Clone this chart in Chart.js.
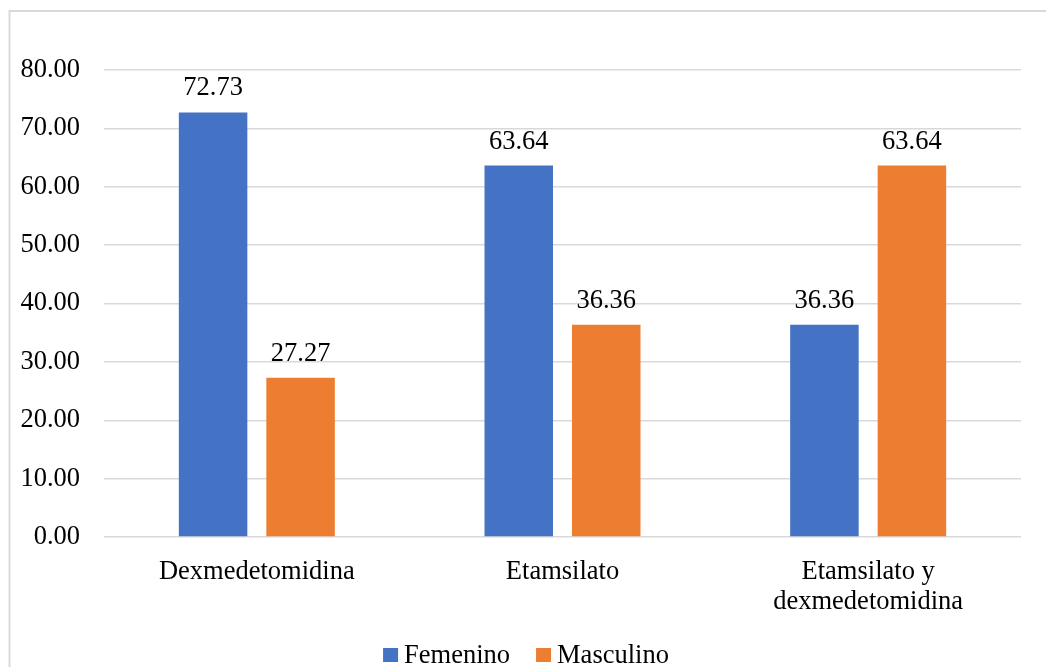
<!DOCTYPE html>
<html>
<head>
<meta charset="utf-8">
<title>Femenino / Masculino</title>
<script src="https://cdn.jsdelivr.net/npm/chart.js@4.4.1/dist/chart.umd.min.js"></script>
<style>
  html, body { margin: 0; padding: 0; overflow: hidden; background: #ffffff; }
  #wrap { width: 1046px; height: 667px; position: relative; }
</style>
</head>
<body>
<div id="wrap"><canvas id="chart"></canvas></div>
<script>
// Grouped percentages by drug and sex
const categories = ['Dexmedetomidina', 'Etamsilato', ['Etamsilato y', 'dexmedetomidina']];
const femenino = [72.73, 63.64, 36.36];
const masculino = [27.27, 36.36, 63.64];
const seriesNames = ['Femenino', 'Masculino'];
const yTicks = [0, 10, 20, 30, 40, 50, 60, 70, 80];

const FONT = '"Liberation Serif", "Times New Roman", serif';
const FONT_SIZE = 26.5;
const BLUE = '#4472C4';
const ORANGE = '#ED7D31';
const GRID = '#d9d9d9';

// Thin frame around the figure
const framePlugin = {
  id: 'frame',
  beforeDraw(chart) {
    const ctx = chart.ctx;
    ctx.save();
    ctx.fillStyle = '#ffffff';
    ctx.fillRect(0, 0, chart.width, chart.height);
    ctx.strokeStyle = GRID;
    ctx.lineWidth = 2;
    ctx.strokeRect(9.5, 11, 1200, 800);
    ctx.restore();
  }
};

// Value labels above each bar
const valueLabels = {
  id: 'valueLabels',
  afterDatasetsDraw(chart) {
    const ctx = chart.ctx;
    ctx.save();
    ctx.font = FONT_SIZE + 'px ' + FONT;
    ctx.fillStyle = '#000000';
    ctx.textAlign = 'center';
    ctx.textBaseline = 'alphabetic';
    chart.data.datasets.forEach((ds, di) => {
      chart.getDatasetMeta(di).data.forEach((bar, i) => {
        ctx.fillText(ds.data[i].toFixed(2), bar.x, bar.y - 17);
      });
    });
    ctx.restore();
  }
};

// Compact legend along the bottom edge: square swatch, small gap, series name
const bottomLegend = {
  id: 'bottomLegend',
  afterDraw(chart) {
    const ctx = chart.ctx;
    const box = 15, boxH = 14, gap = 6, itemGap = 26;
    const baseline = 663;
    ctx.save();
    ctx.font = FONT_SIZE + 'px ' + FONT;
    ctx.textBaseline = 'alphabetic';
    ctx.textAlign = 'left';
    const items = chart.data.datasets.map(ds => ({
      text: ds.label, color: ds.backgroundColor, w: ctx.measureText(ds.label).width
    }));
    const total = items.reduce((s, it) => s + box + gap + it.w, 0) + itemGap * (items.length - 1);
    let x = chart.width / 2 + 3 - total / 2;
    items.forEach(it => {
      ctx.fillStyle = it.color;
      ctx.fillRect(x, 648, box, boxH);
      ctx.fillStyle = '#000000';
      ctx.fillText(it.text, x + box + gap, baseline);
      x += box + gap + it.w + itemGap;
    });
    ctx.restore();
  }
};

new Chart(document.getElementById('chart'), {
  type: 'bar',
  data: {
    labels: categories,
    datasets: [
      { label: seriesNames[0], data: femenino, backgroundColor: BLUE },
      { label: seriesNames[1], data: masculino, backgroundColor: ORANGE }
    ]
  },
  options: {
    responsive: true,
    maintainAspectRatio: false,
    animation: false,
    devicePixelRatio: 1,
    categoryPercentage: 0.5725,
    barPercentage: 0.783,
    layout: { padding: { top: 70, right: 25, left: 0, bottom: 35 } },
    plugins: {
      tooltip: { enabled: false },
      legend: { display: false }
    },
    scales: {
      x: {
        grid: { display: false },
        border: { display: false },
        ticks: {
          color: '#000000',
          padding: 12,
          maxRotation: 0,
          autoSkip: false,
          font: { family: FONT, size: FONT_SIZE, lineHeight: 30 / FONT_SIZE }
        },
        afterFit(scale) { scale.height = 95; }
      },
      y: {
        min: 0,
        max: 80,
        afterBuildTicks(scale) { scale.ticks = yTicks.map(v => ({ value: v })); },
        grid: { color: GRID, lineWidth: 1.5, drawTicks: false },
        border: { display: false },
        ticks: {
          color: '#000000',
          padding: 24,
          font: { family: FONT, size: FONT_SIZE },
          callback: v => Number(v).toFixed(2)
        },
        afterFit(scale) { scale.width = 104; }
      }
    }
  },
  plugins: [framePlugin, valueLabels, bottomLegend]
});
</script>
</body>
</html>
